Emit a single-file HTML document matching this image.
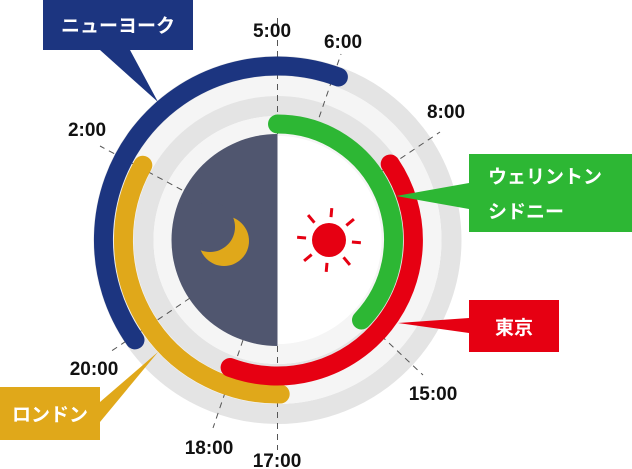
<!DOCTYPE html>
<html><head><meta charset="utf-8"><style>
html,body{margin:0;padding:0;background:#fff;width:632px;height:469px;overflow:hidden}
text{font-family:"Liberation Sans","Noto Sans CJK JP",sans-serif;font-weight:bold}
</style></head><body>
<svg width="632" height="469" viewBox="0 0 632 469" xmlns="http://www.w3.org/2000/svg">
<circle cx="277.5" cy="240" r="174" fill="none" stroke="#e4e4e4" stroke-width="20"/>
<circle cx="277.5" cy="240" r="154" fill="none" stroke="#f5f5f5" stroke-width="20"/>
<circle cx="277.5" cy="240" r="134" fill="none" stroke="#e4e4e4" stroke-width="20"/>
<circle cx="277.5" cy="240" r="114" fill="none" stroke="#f5f5f5" stroke-width="20"/>
<circle cx="277.5" cy="240" r="104" fill="#fff"/>
<path d="M277.5 134 A106 106 0 0 0 277.5 346 Z" fill="#50566f"/>
<g stroke="#555" stroke-width="1" stroke-dasharray="6,5" fill="none">
<line x1="277.5" y1="18" x2="277.5" y2="134"/>
<line x1="277.5" y1="346" x2="277.5" y2="450"/>
<line x1="312" y1="138" x2="341" y2="54"/>
<line x1="373" y1="177" x2="440" y2="132"/>
<line x1="182" y1="190" x2="100" y2="146"/>
<line x1="190" y1="298" x2="110" y2="352"/>
<line x1="243" y1="340" x2="213" y2="428"/>
<line x1="357" y1="313" x2="423" y2="375"/>
</g>
<g fill="none" stroke-width="19" stroke-linecap="round">
<path d="M135 339.9 A174 174 0 0 1 338.4 77" stroke="#1c3580"/>
<path d="M280.2 394 A154 154 0 0 1 142.8 165.3" stroke="#e0a81a"/>
<path d="M390.2 164 A136 136 0 0 1 230.1 367.5" stroke="#e60012"/>
<path d="M277.5 124 A116 116 0 0 1 361.5 320" stroke="#2db734"/>
</g>
<circle cx="224" cy="241" r="25" fill="#e0a81a"/>
<circle cx="210" cy="227" r="25" fill="#50566f"/>
<circle cx="329" cy="240" r="17" fill="#e60012"/>
<g stroke="#e60012" stroke-width="3" transform="rotate(5 329 240)">
<line x1="329" y1="217" x2="329" y2="208"/>
<line x1="329" y1="263" x2="329" y2="272"/>
<line x1="306" y1="240" x2="297" y2="240"/>
<line x1="352" y1="240" x2="361" y2="240"/>
<line x1="345" y1="224" x2="352" y2="217"/>
<line x1="313" y1="224" x2="306" y2="217"/>
<line x1="345" y1="256" x2="352" y2="263"/>
<line x1="313" y1="256" x2="306" y2="263"/>
</g>
<rect x="43" y="0" width="150" height="50" fill="#1c3580"/>
<polygon points="100,50 130,50 158,102" fill="#1c3580"/>
<text x="118" y="32" fill="#fff" font-size="19" text-anchor="middle">ニューヨーク</text>
<rect x="469" y="154" width="163" height="78" fill="#2db734"/>
<polygon points="469,183 469,209 396,196" fill="#2db734"/>
<text x="488" y="183" fill="#fff" font-size="19">ウェリントン</text>
<text x="488" y="218" fill="#fff" font-size="19">シドニー</text>
<rect x="469" y="300" width="90" height="52" fill="#e60012"/>
<polygon points="469,318 469,333 398,323" fill="#e60012"/>
<text x="514" y="334" fill="#fff" font-size="19" text-anchor="middle">東京</text>
<rect x="0" y="387" width="100" height="53" fill="#e0a81a"/>
<polygon points="100,402 100,422 158,352" fill="#e0a81a"/>
<text x="50" y="421" fill="#fff" font-size="19" text-anchor="middle">ロンドン</text>
<g font-size="19" fill="#111" text-anchor="middle">
<text x="272" y="37">5:00</text>
<text x="343" y="48">6:00</text>
<text x="446" y="118">8:00</text>
<text x="87" y="136">2:00</text>
<text x="94" y="375">20:00</text>
<text x="433" y="400">15:00</text>
<text x="209" y="454">18:00</text>
<text x="277" y="467">17:00</text>
</g>
</svg>
</body></html>
